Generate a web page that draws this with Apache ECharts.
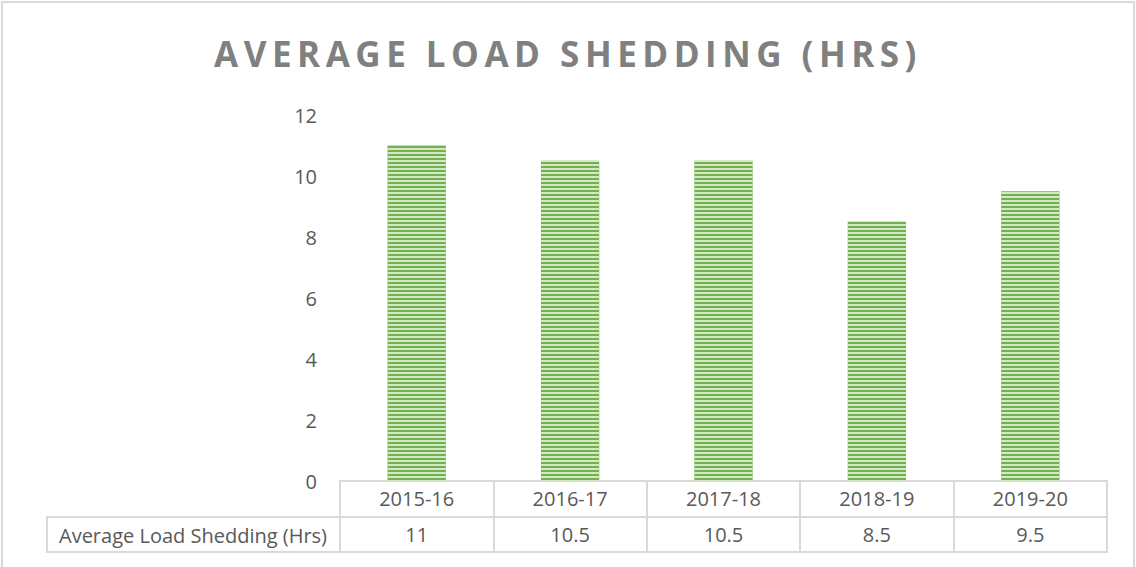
<!DOCTYPE html>
<html>
<head>
<meta charset="utf-8">
<script src="https://cdn.jsdelivr.net/npm/echarts@6/dist/echarts.min.js"></script>
<style>
  html, body { margin: 0; padding: 0; background: #fff; }
  #main { width: 1136px; height: 567px; }
  /* letter spacing for the bold title only */
  #main text[style*="bold"] { letter-spacing: 5.5px; }
</style>
</head>
<body>
<div id="main"></div>
<script>
// chart data
const years = ['2015-16', '2016-17', '2017-18', '2018-19', '2019-20'];
const shedding = [11, 10.5, 10.5, 8.5, 9.5];
const seriesName = 'Average Load Shedding (Hrs)';
const yTicks = { min: 0, max: 12, interval: 2 };

const chart = echarts.init(document.getElementById('main'), null, { renderer: 'svg' });

const gridLine = '#d9d9d9';
const txt = '#595959';
const font = '"Open Sans", sans-serif';
const fs = 20;

const option = {
  backgroundColor: '#fff',
  aria: { enabled: true, decal: { show: true } },
  title: {
    text: 'AVERAGE LOAD SHEDDING (HRS)',
    left: 'center',
    top: 31,
    textStyle: { fontFamily: font, fontWeight: 'bold', fontSize: 35, color: '#808080' }
  },
  grid: { left: 340, right: 29, top: 115, bottom: 86 },
  xAxis: [
    {
      type: 'category',
      data: years,
      position: 'bottom',
      axisLine: { lineStyle: { color: gridLine, width: 2 } },
      axisTick: { show: true, interval: 0, length: 72, lineStyle: { color: gridLine, width: 2 } },
      axisLabel: { margin: 7, fontSize: fs, color: txt, fontFamily: font },
      splitLine: { show: false }
    },
    {
      // data row of the table
      type: 'category',
      data: years,
      position: 'bottom',
      offset: 36,
      axisLine: { lineStyle: { color: gridLine, width: 2 } },
      axisTick: { show: false },
      axisLabel: {
        margin: 7, fontSize: fs, color: txt, fontFamily: font,
        formatter: (v, i) => String(shedding[i])
      }
    },
    {
      type: 'category',
      data: years,
      position: 'bottom',
      offset: 71,
      axisLine: { lineStyle: { color: gridLine, width: 2 } },
      axisTick: { show: false },
      axisLabel: { show: false }
    }
  ],
  yAxis: {
    type: 'value',
    min: yTicks.min,
    max: yTicks.max,
    interval: yTicks.interval,
    axisLine: { show: false },
    axisTick: { show: false },
    splitLine: { show: false },
    axisLabel: { margin: 23, fontSize: fs, color: txt, fontFamily: font }
  },
  series: [
    {
      name: seriesName,
      type: 'bar',
      xAxisIndex: 0,
      barWidth: '38%',
      data: shedding,
      itemStyle: {
        color: '#74b04f',
        decal: {
          symbol: 'rect',
          symbolSize: 1,
          color: '#d3e9c5',
          dashArrayX: [1, 0],
          dashArrayY: [2, 2],
          rotation: 0
        }
      },
      emphasis: { disabled: true }
    }
  ],
  graphic: [
    {
      type: 'rect',
      shape: { x: 2, y: 2, width: 1132, height: 570 },
      style: { fill: 'none', stroke: gridLine, lineWidth: 2 },
      silent: true
    },
    {
      type: 'rect',
      shape: { x: 47, y: 517, width: 293, height: 35 },
      style: { fill: 'none', stroke: gridLine, lineWidth: 2 },
      silent: true
    },
    {
      type: 'text',
      x: 193,
      y: 535,
      style: {
        text: seriesName,
        fontSize: fs,
        fontFamily: font,
        fill: txt,
        textAlign: 'center',
        textVerticalAlign: 'middle'
      },
      silent: true
    }
  ]
};

chart.setOption(option);
</script>
</body>
</html>
